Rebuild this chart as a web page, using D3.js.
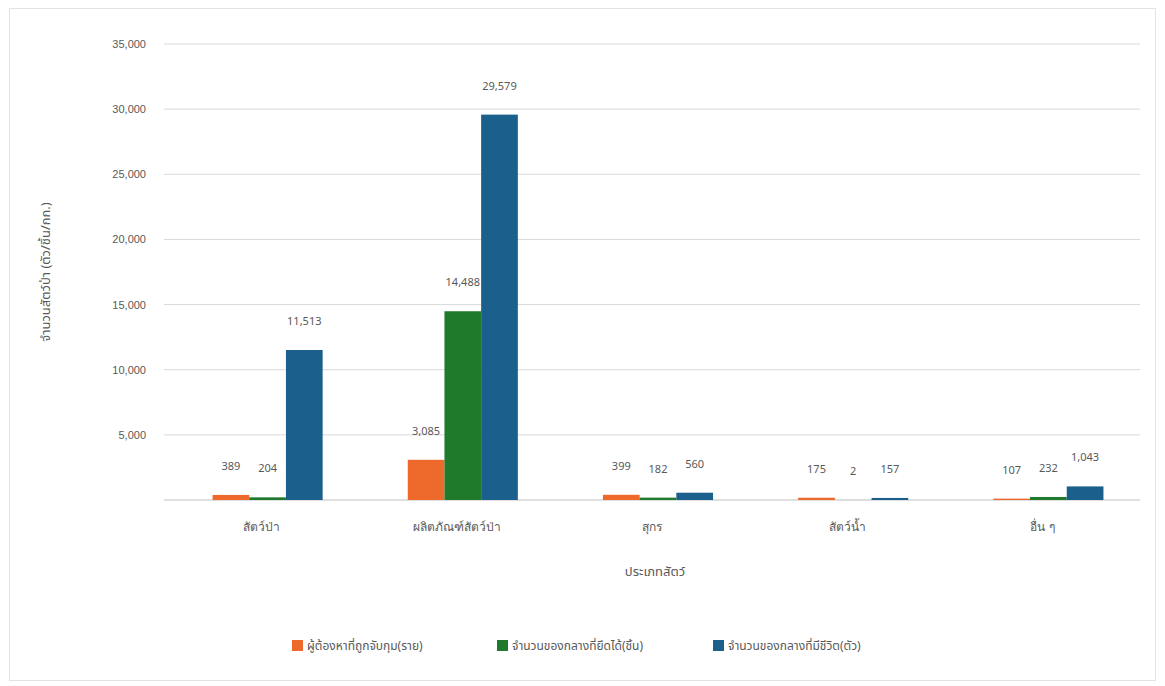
<!DOCTYPE html>
<html><head><meta charset="utf-8">
<script src="https://cdn.jsdelivr.net/npm/d3@7"></script>
<style>
body{margin:0;background:#fff;font-family:"Noto Sans Thai","Noto Sans","DejaVu Sans",sans-serif;}
</style></head><body>
<svg id="chart" width="1165" height="686"></svg>
<script>
const categories = ["สัตว์ป่า", "ผลิตภัณฑ์สัตว์ป่า", "สุกร", "สัตว์น้ำ", "อื่น ๆ"];
const seriesNames = ["ผู้ต้องหาที่ถูกจับกุม(ราย)", "จำนวนของกลางที่ยึดได้(ชิ้น)", "จำนวนของกลางที่มีชีวิต(ตัว)"];
const seriesA = [389, 3085, 399, 175, 107];
const seriesB = [204, 14488, 182, 2, 232];
const seriesC = [11513, 29579, 560, 157, 1043];
const yTicks = [0, 5000, 10000, 15000, 20000, 25000, 30000, 35000];
const colors = ["#ee6a2c", "#1f7a2c", "#1b5f8c"];
const yTitle = "จำนวนสัตว์ป่า (ตัว/ชิ้น/กก.)";
const xTitle = "ประเภทสัตว์";

const svg = d3.select("#chart");
svg.append("rect").attr("x",9.5).attr("y",8.5).attr("width",1146).attr("height",672)
  .attr("fill","#fff").attr("stroke","#e3e3e3");

const m = {left:164, right:1140, top:44, bottom:500};
const x0 = d3.scaleBand().domain(categories).range([m.left, m.right]).paddingInner(0).paddingOuter(0);
const x1 = d3.scaleBand().domain(d3.range(3)).range([6, x0.bandwidth()+6]).paddingInner(0).paddingOuter(1.16);
const y = d3.scaleLinear().domain([0, 35000]).range([m.bottom, m.top]);

// grid
svg.append("g").selectAll("line").data(yTicks).join("line")
  .attr("x1", m.left).attr("x2", m.right)
  .attr("y1", d=>y(d)).attr("y2", d=>y(d))
  .attr("stroke", d=> d===0 ? "#bfbfbf" : "#d9d9d9").attr("stroke-width",1);

// y axis labels
const yAxis = d3.axisLeft(y).tickValues(yTicks.filter(d=>d>0)).tickSize(0).tickPadding(18).tickFormat(d3.format(","));
const ya = svg.append("g").attr("transform",`translate(${m.left},0)`).call(yAxis);
ya.select(".domain").remove();
ya.selectAll("text").attr("fill","#595959").style("font-size","11px").style("font-family","inherit");

// x axis labels
const xAxis = d3.axisBottom(x0).tickSize(0).tickPadding(22);
const xa = svg.append("g").attr("transform",`translate(0,${m.bottom})`).call(xAxis);
xa.select(".domain").remove();
xa.selectAll("text").attr("fill","#595959").style("font-size","12px").style("font-family","inherit");

const series = [seriesA, seriesB, seriesC];
const fmt = d3.format(",");
series.forEach((vals, si) => {
  const g = svg.append("g");
  g.selectAll("rect").data(vals).join("rect")
    .attr("x", (d,i)=> x0(categories[i]) + x1(si))
    .attr("y", d=>y(d)).attr("width", x1.bandwidth()).attr("height", d=> y(0)-y(d))
    .attr("fill", colors[si]);
  g.selectAll("text").data(vals).join("text")
    .attr("x", (d,i)=> x0(categories[i]) + x1(si) + x1.bandwidth()/2)
    .attr("y", d=> y(d) - 25)
    .attr("text-anchor","middle").attr("fill","#595959").style("font-size","11px")
    .text(d=>fmt(d));
});

// axis titles
svg.append("text").attr("transform",`translate(50,272) rotate(-90)`).attr("text-anchor","middle")
  .attr("fill","#595959").style("font-size","13px").text(yTitle);
svg.append("text").attr("x",655).attr("y",576).attr("text-anchor","middle")
  .attr("fill","#595959").style("font-size","13px").text(xTitle);

// legend
const legX = [292, 497, 713];
const lg = svg.append("g");
seriesNames.forEach((n,i)=>{
  lg.append("rect").attr("x",legX[i]).attr("y",640).attr("width",11).attr("height",11).attr("fill",colors[i]);
  lg.append("text").attr("x",legX[i]+15).attr("y",650).attr("fill","#595959").style("font-size","12px").text(n);
});
</script>
</body></html>
